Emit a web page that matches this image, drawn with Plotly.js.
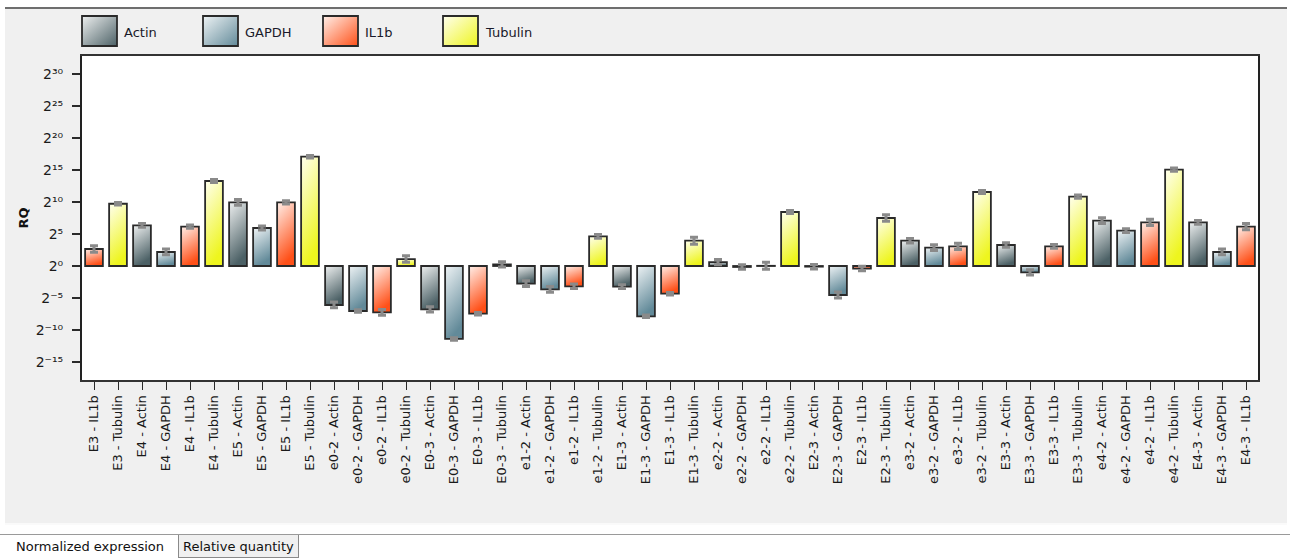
<!DOCTYPE html>
<html>
<head>
<meta charset="utf-8">
<script src="https://cdn.plot.ly/plotly-3.0.1.min.js"></script>
<style>
  html, body { margin:0; padding:0; background:#ffffff; width:1293px; height:559px; overflow:hidden; }
  #panel { position:absolute; left:5px; top:7px; width:1282px; height:514px; background:#f0f0f0;
           border-top:2px solid #6e6e6e; border-bottom:2px solid #fafafa; }
  #tabline { position:absolute; left:0px; top:534px; width:1290px; height:0; border-top:1px solid #9a9a9a; }
  .tab { position:absolute; font-family:"DejaVu Sans", sans-serif; font-size:13px; color:#111; white-space:nowrap; }
  #tab1 { left:8px; top:535px; height:23px; line-height:24px; padding:0 8px; background:#ffffff; }
  #tab2 { left:178px; top:535px; height:22px; line-height:24px; padding:0 4px; background:#f0f0f0;
          border:1px solid #8a8a8a; border-top:none; }
  #chart { position:absolute; left:0; top:0; width:1293px; height:559px; }
</style>
</head>
<body>
<div id="panel"></div>
<div id="tabline"></div>
<div id="tab1" class="tab">Normalized expression</div>
<div id="tab2" class="tab">Relative quantity</div>
<div id="chart"></div>
<script>
// ---- data (log2 of RQ) ----
const samples = ['E3','E4','E5','e0-2','E0-3','e1-2','E1-3','e2-2','E2-3','e3-2','E3-3','e4-2','E4-3'];
const genes = ['Actin','GAPDH','IL1b','Tubulin'];

const actinLog2   = [null, 6.36, 9.95, -6.09, -6.77, -2.76, -3.23, 0.60, -0.10, 3.96, 3.28, 7.08, 6.82];
const gapdhLog2   = [null, 2.19, 5.94, -7.03, -11.40, -3.65, -7.86, -0.15, -4.53, 2.86, -0.99, 5.52, 2.19];
const il1bLog2    = [2.66, 6.15, 9.95, -7.24, -7.45, -3.18, -4.33, 0.03, -0.40, 3.07, 3.07, 6.82, 6.15];
const tubulinLog2 = [9.73, 13.28, 17.08, 1.09, 0.25, 4.64, 3.96, 8.44, 7.50, 11.56, 10.83, 15.05, null];

const actinErr   = [null, 0.30, 0.45, 0.45, 0.40, 0.45, 0.30, 0.40, 0.35, 0.35, 0.35, 0.45, 0.30];
const gapdhErr   = [null, 0.45, 0.30, 0.20, 0.20, 0.45, 0.20, 0.35, 0.45, 0.45, 0.40, 0.30, 0.45];
const il1bErr    = [0.50, 0.25, 0.25, 0.45, 0.20, 0.35, 0.20, 0.55, 0.35, 0.50, 0.30, 0.50, 0.50];
const tubulinErr = [0.20, 0.25, 0.20, 0.50, 0.40, 0.30, 0.55, 0.25, 0.50, 0.25, 0.25, 0.25, null];

const yTickExponents = [-15, -10, -5, 0, 5, 10, 15, 20, 25, 30];

// ---- styles ----
const seriesValues = [actinLog2, gapdhLog2, il1bLog2, tubulinLog2];
const seriesErrors = [actinErr, gapdhErr, il1bErr, tubulinErr];
const gradStops = [
  ['#eef0f0', '#4c6166'],
  ['#eef3f5', '#628a99'],
  ['#fff0ea', '#ff5018'],
  ['#ffffef', '#eef51e']
];
const midColors = ['#9aa7aa', '#a9c0c8', '#ff9f80', '#f7f98a'];

const supMap = { '0':'⁰','1':'¹','2':'²','3':'³','4':'⁴','5':'⁵','6':'⁶','7':'⁷','8':'⁸','9':'⁹','-':'⁻' };
const toSup = n => String(n).split('').map(c => supMap[c]).join('');

// category order: sample-major, gene-minor
const categories = [];
samples.forEach((s, si) => {
  genes.forEach((g, gi) => {
    if (seriesValues[gi][si] !== null) categories.push(s + ' - ' + g);
  });
});

const traces = genes.map((g, gi) => {
  const x = [], y = [], e = [];
  samples.forEach((s, si) => {
    const v = seriesValues[gi][si];
    if (v !== null) { x.push(s + ' - ' + g); y.push(v); e.push(seriesErrors[gi][si]); }
  });
  return {
    type: 'bar', name: g, x: x, y: y, width: 0.74,
    marker: { color: midColors[gi], line: { color: '#2a2a2a', width: 1.8 } },
    error_y: { type: 'data', array: e, visible: true, color: '#8a8a8a', thickness: 3, width: 4 },
    showlegend: false, hoverinfo: 'x+y'
  };
});

// plot-area geometry (pixels)
const W = 1293, H = 559, ML = 82, MR = 35, MT = 56, MB = 179;
const PW = W - ML - MR, PH = H - MT - MB;
const px2x = p => (p - ML) / PW;
const py2y = p => (H - MB - p) / PH;

// custom legend: big swatches + labels
const legendX = [82, 203, 323, 443];
const shapes = [], annotations = [];
genes.forEach((g, gi) => {
  shapes.push({ type: 'rect', xref: 'paper', yref: 'paper',
    x0: px2x(legendX[gi]), x1: px2x(legendX[gi] + 35), y0: py2y(46), y1: py2y(16),
    fillcolor: midColors[gi], line: { color: '#2a2a2a', width: 1.8 } });
  annotations.push({ xref: 'paper', yref: 'paper', x: px2x(legendX[gi] + 40), y: py2y(33),
    xanchor: 'left', yanchor: 'middle', text: g, showarrow: false,
    font: { family: 'DejaVu Sans, sans-serif', size: 13, color: '#1a1a2a' } });
});

const layout = {
  width: W, height: H,
  margin: { l: ML, r: MR, t: MT, b: MB, pad: 0 },
  paper_bgcolor: 'rgba(0,0,0,0)', plot_bgcolor: '#ffffff',
  barmode: 'overlay', showlegend: false,
  font: { family: 'DejaVu Sans, sans-serif', size: 13, color: '#1a1a1a' },
  xaxis: {
    type: 'category', categoryorder: 'array', categoryarray: categories,
    range: [-0.5, categories.length - 0.5], tickangle: -90,
    ticks: 'outside', ticklen: 8, tickwidth: 1, tickcolor: '#2a2a2a',
    showline: true, linecolor: '#333333', linewidth: 2, mirror: true,
    showgrid: false, zeroline: false, automargin: false,
    tickfont: { family: 'DejaVu Sans, sans-serif', size: 13, color: '#1a1a1a' }
  },
  yaxis: {
    range: [-17.81, 32.81], tickvals: yTickExponents,
    ticktext: yTickExponents.map(v => '2' + toSup(v)),
    ticks: 'outside', ticklen: 8, tickwidth: 2, tickcolor: '#2a2a2a', ticklabelstandoff: 6,
    showline: true, linecolor: '#222222', linewidth: 2, mirror: true,
    showgrid: false, zeroline: false, automargin: false,
    tickfont: { family: 'DejaVu Sans, sans-serif', size: 14, color: '#1a1a1a' },
    title: { text: 'RQ', standoff: 4, font: { family: 'DejaVu Sans, sans-serif', size: 13, color: '#111', weight: 'bold' } }
  },
  shapes: shapes, annotations: annotations
};

Plotly.newPlot('chart', traces, layout, { staticPlot: true }).then(gd => {
  // add top-left-to-bottom gradients like the original glossy bars
  const svg = gd.querySelector('svg.main-svg');
  const NS = 'http://www.w3.org/2000/svg';
  let defs = svg.querySelector('defs');
  if (!defs) { defs = document.createElementNS(NS, 'defs'); svg.insertBefore(defs, svg.firstChild); }
  const mkGrad = (id, st, x2, y2) => {
    const lg = document.createElementNS(NS, 'linearGradient');
    lg.setAttribute('id', id);
    lg.setAttribute('x1', '0'); lg.setAttribute('y1', '0');
    lg.setAttribute('x2', x2); lg.setAttribute('y2', y2);
    [[0, st[0]], [1, st[1]]].forEach(([o, c]) => {
      const s = document.createElementNS(NS, 'stop');
      s.setAttribute('offset', o); s.setAttribute('stop-color', c);
      lg.appendChild(s);
    });
    defs.appendChild(lg);
  };
  gradStops.forEach((st, gi) => {
    mkGrad('rqbar' + gi, st, '0.3', '1');
    mkGrad('rqleg' + gi, st, '1', '1');
  });
  gd.querySelectorAll('.barlayer .trace.bars').forEach((tg, gi) => {
    tg.querySelectorAll('.point path').forEach(p => { p.style.fill = 'url(#rqbar' + gi + ')'; });
  });
  gd.querySelectorAll('.shapelayer path').forEach((p, i) => {
    if (i < gradStops.length) p.style.fill = 'url(#rqleg' + i + ')';
  });
});
</script>
</body>
</html>
